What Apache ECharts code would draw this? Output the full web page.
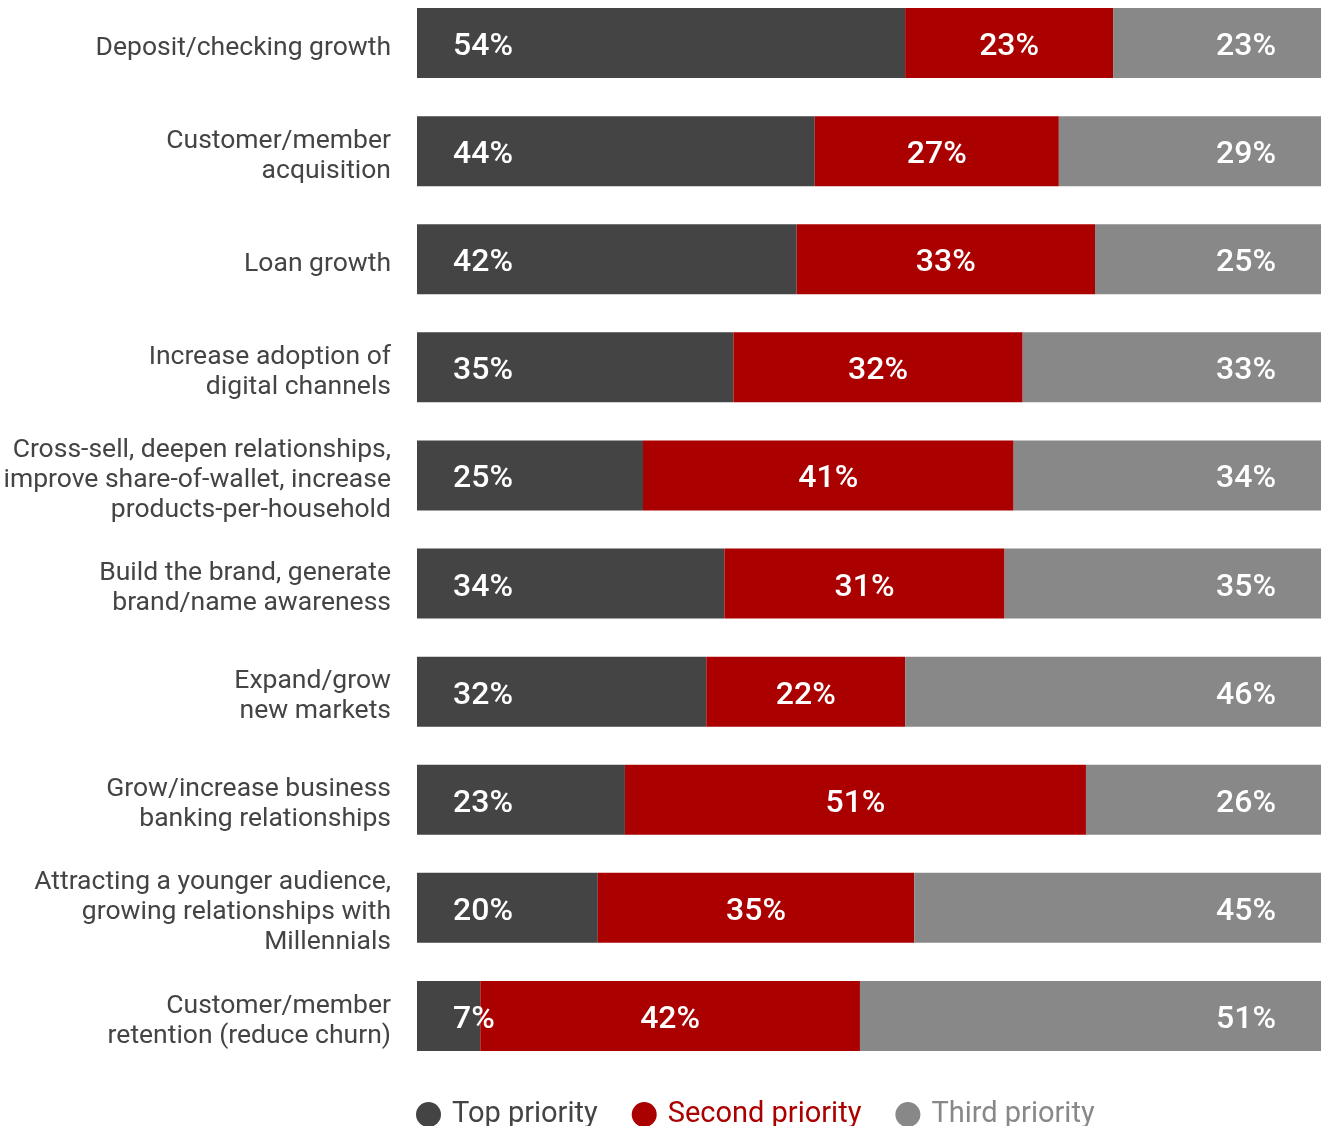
<!DOCTYPE html>
<html>
<head>
<meta charset="utf-8">
<script src="https://cdn.jsdelivr.net/npm/echarts@6/dist/echarts.min.js"></script>
<style>
html,body{margin:0;padding:0;background:#fff;}
#chart{width:1321px;height:1126px;}
</style>
</head>
<body>
<div id="chart"></div>
<script>
const categories = [
  'Deposit/checking growth',
  'Customer/member\nacquisition',
  'Loan growth',
  'Increase adoption of\ndigital channels',
  'Cross-sell, deepen relationships,\nimprove share-of-wallet, increase\nproducts-per-household',
  'Build the brand, generate\nbrand/name awareness',
  'Expand/grow\nnew markets',
  'Grow/increase business\nbanking relationships',
  'Attracting a younger audience,\ngrowing relationships with\nMillennials',
  'Customer/member\nretention (reduce churn)'
];
const topPriority    = [54, 44, 42, 35, 25, 34, 32, 23, 20, 7];
const secondPriority = [23, 27, 33, 32, 41, 31, 22, 51, 35, 42];
const thirdPriority  = [23, 29, 25, 33, 34, 35, 46, 26, 45, 51];
const seriesNames = ['Top priority', 'Second priority', 'Third priority'];
const colors = ['#444444', '#AA0000', '#888888'];

const chart = echarts.init(document.getElementById('chart'));
const labelBase = {
  show: true,
  color: '#fff',
  fontFamily: 'Roboto',
  fontSize: 32,
  fontWeight: 500,
  offset: [0, 4],
  formatter: '{c}%'
};
chart.setOption({
  animation: false,
  grid: [
    {left: 417, right: 0, top: -11, height: 1081, containLabel: false, outerBoundsMode: 'none'},
    {left: 417, right: 0, top: -6, height: 1081, containLabel: false, outerBoundsMode: 'none'}
  ],
  legend: {
    left: 411, top: 1095,
    icon: 'circle', itemWidth: 25, itemHeight: 25, itemGap: 34,
    textStyle: {fontFamily: 'Roboto', fontSize: 29, padding: [0, 0, 0, 6]},
    data: seriesNames.map((n, i) => ({name: n, textStyle: {color: colors[i]}}))
  },
  xAxis: [
    {type: 'value', min: 0, max: 100, show: false, gridIndex: 0},
    {type: 'value', min: 0, max: 100, show: false, gridIndex: 1}
  ],
  yAxis: [
    {type: 'category', data: categories, inverse: true, gridIndex: 0,
     axisLine: {show: false}, axisTick: {show: false}, axisLabel: {show: false}},
    {type: 'category', data: categories, inverse: true, gridIndex: 1,
     axisLine: {show: false}, axisTick: {show: false}, splitLine: {show: false},
     axisLabel: {margin: 26, fontFamily: 'Roboto', fontSize: 26.5, color: '#444', lineHeight: 30, align: 'right'}}
  ],
  series: [
    {name: seriesNames[0], type: 'bar', stack: 'a', data: topPriority, barWidth: 70,
     itemStyle: {color: colors[0]},
     label: Object.assign({}, labelBase, {position: 'insideLeft', distance: 36})},
    {name: seriesNames[1], type: 'bar', stack: 'a', data: secondPriority, barWidth: 70,
     itemStyle: {color: colors[1]},
     label: Object.assign({}, labelBase, {position: 'inside'})},
    {name: seriesNames[2], type: 'bar', stack: 'a', data: thirdPriority, barWidth: 70,
     itemStyle: {color: colors[2]},
     label: Object.assign({}, labelBase, {position: 'insideRight', distance: 45})}
  ]
});
</script>
</body>
</html>
